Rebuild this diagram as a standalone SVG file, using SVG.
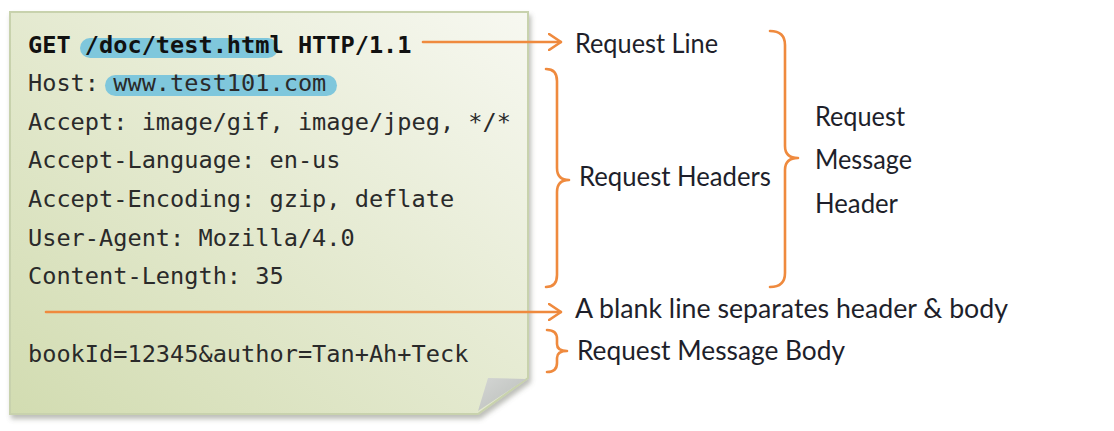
<svg xmlns="http://www.w3.org/2000/svg" width="1114" height="431" viewBox="0 0 1114 431">
  <defs>
    <linearGradient id="cardFill" x1="1" y1="0" x2="0" y2="1">
      <stop offset="0" stop-color="#f7f8f1"/>
      <stop offset="0.45" stop-color="#e6ebd3"/>
      <stop offset="1" stop-color="#d2dcb1"/>
    </linearGradient>
    <linearGradient id="foldFill" x1="0" y1="0" x2="1" y2="1">
      <stop offset="0" stop-color="#d4d6d4"/>
      <stop offset="1" stop-color="#b9bdb9"/>
    </linearGradient>
    <filter id="shadow" x="-5%" y="-5%" width="112%" height="115%">
      <feDropShadow dx="2" dy="4" stdDeviation="2.5" flood-color="#6b7060" flood-opacity="0.45"/>
    </filter>
    <marker id="chev" viewBox="0 0 14 18" refX="13" refY="9" markerWidth="14" markerHeight="18" markerUnits="userSpaceOnUse" orient="auto">
      <path d="M1,1 L13,9 L1,17" fill="none" stroke="#ef8a3e" stroke-width="2.6" stroke-linecap="round" stroke-linejoin="round"/>
    </marker>
    <style>
      .mono { font-family: "DejaVu Sans Mono", "Liberation Mono", monospace; font-size: 23.6px; fill: #2a2a2a; }
      .bold { font-weight: bold; fill: #111; }
      .hl { fill: #7fc7dc; }
      .label { font-family: Lato, "Open Sans", "Liberation Sans", sans-serif; font-size: 26px; fill: #1e1f2b; }
      .conn { fill: none; stroke: #ef8a3e; stroke-width: 2.6; stroke-linecap: round; stroke-linejoin: round; }
    </style>
  </defs>

  <g id="message-card">
    <path d="M10,12 L528,12 L528,378 L478,414 L10,414 Z" fill="url(#cardFill)" stroke="#c8d2ad" stroke-width="2" filter="url(#shadow)"/>
    <path d="M488,378 L526,379 L478,411 Z" fill="url(#foldFill)"/>
    <rect class="hl" x="80" y="38" width="198" height="20" rx="10"/>
    <rect class="hl" x="105" y="75" width="232" height="21" rx="10.5"/>
    <text class="mono bold" x="28" y="53">GET /doc/test.html HTTP/1.1</text>
    <text class="mono" x="28" y="91">Host: www.test101.com</text>
    <text class="mono" x="28" y="130">Accept: image/gif, image/jpeg, */*</text>
    <text class="mono" x="28" y="168">Accept-Language: en-us</text>
    <text class="mono" x="28" y="207">Accept-Encoding: gzip, deflate</text>
    <text class="mono" x="28" y="246">User-Agent: Mozilla/4.0</text>
    <text class="mono" x="28" y="284">Content-Length: 35</text>
    <text class="mono" x="28" y="362">bookId=12345&amp;author=Tan+Ah+Teck</text>
  </g>

  <g id="connectors">
    <path id="arrow-request-line" class="conn" d="M423,42 L561,42" marker-end="url(#chev)"/>
    <path id="arrow-blank-line" class="conn" d="M46,312 L561,312" marker-end="url(#chev)"/>
    <path id="brace-headers" class="conn" d="M546,69 Q557,69 557,81 L557,168 Q557,180 569,180 Q557,180 557,192 L557,275 Q557,287 546,287"/>
    <path id="brace-message-header" class="conn" d="M770,31 Q785,31 785,45 L785,146 Q785,158 798,158 Q785,158 785,170 L785,273 Q785,287 770,287"/>
    <path id="brace-body" class="conn" d="M547,330 Q557,330 557,339 L557,344 Q557,351 567,351 Q557,351 557,358 L557,363 Q557,372 547,372"/>
  </g>

  <g id="label-request-line">
    <text class="label" x="575" y="53" textLength="143" lengthAdjust="spacingAndGlyphs">Request Line</text>
  </g>
  <g id="label-request-headers">
    <text class="label" x="579" y="186" textLength="192" lengthAdjust="spacingAndGlyphs">Request Headers</text>
  </g>
  <g id="label-request-message-header">
    <text class="label" x="815" y="126" textLength="90" lengthAdjust="spacingAndGlyphs">Request</text>
    <text class="label" x="815" y="169" textLength="97" lengthAdjust="spacingAndGlyphs">Message</text>
    <text class="label" x="815" y="213" textLength="83" lengthAdjust="spacingAndGlyphs">Header</text>
  </g>
  <g id="label-blank-line">
    <text class="label" x="575" y="318" textLength="433" lengthAdjust="spacingAndGlyphs">A blank line separates header &amp; body</text>
  </g>
  <g id="label-body">
    <text class="label" x="577" y="360" textLength="268" lengthAdjust="spacingAndGlyphs">Request Message Body</text>
  </g>
</svg>
